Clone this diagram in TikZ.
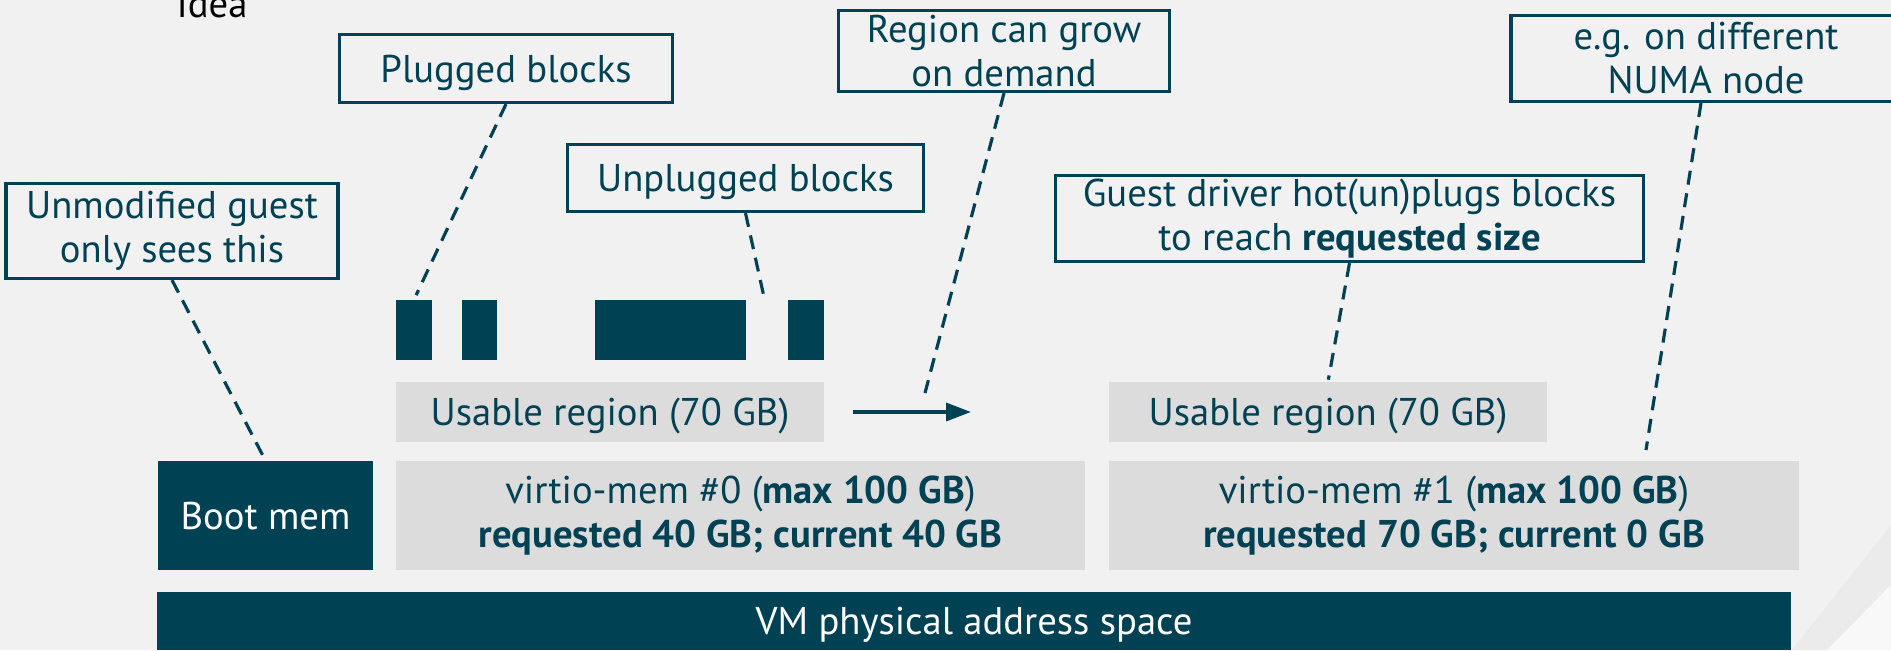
\documentclass[tikz,border=0pt]{standalone}
\usepackage{fontspec}
\setmainfont{PT Sans}
\usetikzlibrary{arrows.meta}
\definecolor{rhteal}{HTML}{004153}
\definecolor{rhbg}{HTML}{F1F1F1}
\definecolor{rhgray}{HTML}{DCDCDC}
\definecolor{rhband}{HTML}{EBEBEB}
\definecolor{rhcorner}{HTML}{F8F8F8}

\begin{document}
\begin{tikzpicture}[x=0.02cm,y=-0.02cm,
  labeltext/.style={font=\fontsize{22}{25}\selectfont,align=center,inner sep=0pt},
  oneline/.style={text height=15.4pt,text depth=0pt},
  callout/.style={labeltext,shape=rectangle,draw=rhteal,line width=1.8pt,text=rhteal,fill=rhbg},
  region/.style={labeltext,shape=rectangle,fill=rhgray,text=rhteal,minimum height=1.2cm},
  darkbox/.style={labeltext,shape=rectangle,fill=rhteal,text=white},
  block/.style={shape=rectangle,fill=rhteal,inner sep=0pt,minimum height=1.2cm},
  pointer/.style={draw=rhteal,line width=1.8pt,dash pattern=on 8pt off 5pt},
  growarrow/.style={draw=rhteal,line width=2pt,-{Triangle[length=0.5cm,width=0.36cm]}}]
\useasboundingbox (0,0) rectangle (1891,650);
\fill[rhbg] (0,0) rectangle (1891,650);
\fill[rhband] (1792,650) -- (1891,525) -- (1891,585) -- (1827,650) -- cycle;
\fill[rhcorner] (1827,650) -- (1891,585) -- (1891,650) -- cycle;

\node[labeltext,anchor=base,text=black] (idea) at (212,17) {Idea};

\node[callout,minimum width=6.64cm,minimum height=1.90cm] (unmod) at (172,231) {Unmodified guest\\only sees this};
\node[callout,oneline,minimum width=6.66cm,minimum height=1.36cm] (plug) at (506,68.5) {Plugged blocks};
\node[callout,oneline,minimum width=7.12cm,minimum height=1.34cm] (unplug) at (745.5,178) {Unplugged blocks};
\node[callout,minimum width=6.62cm,minimum height=1.62cm] (grow) at (1004,51) {Region can grow\\on demand};
\node[callout,minimum width=11.76cm,minimum height=1.72cm] (driver) at (1349.5,218.5) {Guest driver hot(un)plugs blocks\\to reach \textbf{requested size}};
\node[callout,minimum width=7.80cm,minimum height=1.72cm] (numa) at (1706,58.5) {e.g. on different\\NUMA node};

\node[block,minimum width=0.72cm] (b1) at (414,330) {};
\node[block,minimum width=0.70cm] (b2) at (479.5,330) {};
\node[block,minimum width=3.02cm] (b3) at (670.5,330) {};
\node[block,minimum width=0.72cm] (b4) at (806,330) {};

\node[region,oneline,minimum width=8.56cm] (use0) at (610,412) {Usable region (70 GB)};
\node[region,oneline,minimum width=8.76cm] (use1) at (1328,412) {Usable region (70 GB)};

\node[darkbox,oneline,minimum width=4.30cm,minimum height=2.18cm] (boot) at (265.5,515.5) {Boot mem};
\node[region,minimum width=13.78cm,minimum height=2.18cm] (vmem0) at (740.5,515.5) {virtio-mem \#0 (\textbf{max 100 GB})\\\textbf{requested 40 GB; current 40 GB}};
\node[region,minimum width=13.80cm,minimum height=2.18cm] (vmem1) at (1454,515.5) {virtio-mem \#1 (\textbf{max 100 GB})\\\textbf{requested 70 GB; current 0 GB}};
\node[darkbox,oneline,minimum width=32.68cm,minimum height=1.16cm] (phys) at (974,621) {VM physical address space};

\coordinate (gapend) at (764,297);
\coordinate (growend) at (925,393);
\coordinate (numaend) at (1646,450);
\coordinate (arrowend) at (971,412);

\path [pointer] (unmod.south) edge (boot.north);
\path [pointer,shorten >=0.1cm] (plug.south) edge (b1.north);
\path [pointer] (unplug.south) edge (gapend);
\path [pointer] (grow.south) edge (growend);
\path [pointer,shorten >=0.04cm] (driver.south) edge (use1.north);
\path [pointer] ([xshift=-0.1cm]numa.south) edge (numaend);
\draw [growarrow,shorten <=0.58cm] (use0.east) -- (arrowend);
\end{tikzpicture}
\end{document}
